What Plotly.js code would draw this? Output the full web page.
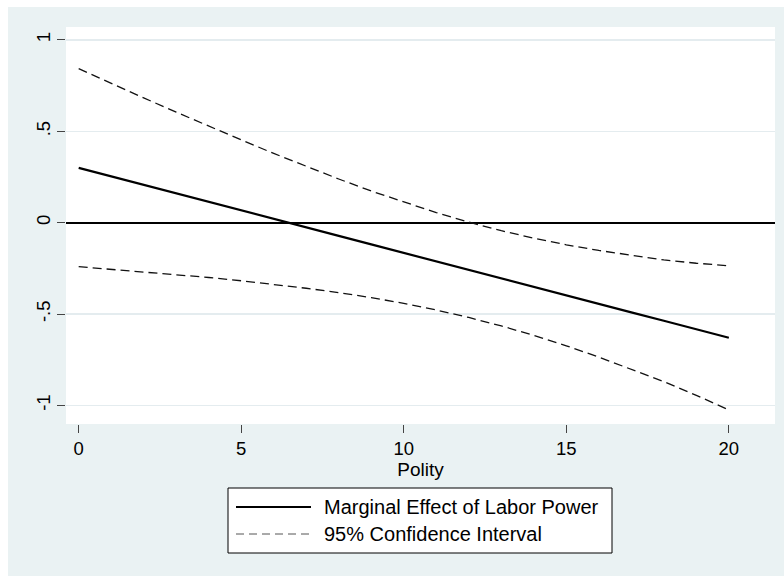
<!DOCTYPE html>
<html>
<head>
<meta charset="utf-8">
<script src="https://cdn.plot.ly/plotly-3.0.1.min.js"></script>
<style>
  html, body { margin: 0; padding: 0; background: #ffffff; }
  #chart { position: absolute; left: 8px; top: 7px; width: 776px; height: 569px; }
</style>
</head>
<body>
<div id="chart"></div>
<script>
// ---- Data ----
const polity = [0,1,2,3,4,5,6,7,8,9,10,11,12,13,14,15,16,17,18,19,20];
const marginalEffect = [0.300,0.254,0.207,0.161,0.114,0.068,0.021,-0.026,-0.072,-0.119,-0.165,-0.212,-0.258,-0.305,-0.351,-0.398,-0.444,-0.491,-0.537,-0.584,-0.630];
const ciUpper = [0.843,0.762,0.683,0.605,0.528,0.453,0.379,0.308,0.239,0.173,0.112,0.055,0.003,-0.044,-0.085,-0.121,-0.152,-0.180,-0.204,-0.222,-0.236];
const ciLower = [-0.241,-0.255,-0.269,-0.284,-0.300,-0.318,-0.337,-0.359,-0.383,-0.410,-0.442,-0.478,-0.519,-0.565,-0.617,-0.674,-0.736,-0.801,-0.870,-0.945,-1.025];
const xTicks = [0,5,10,15,20];
const xTickText = ['0','5','10','15','20'];
const yTicks = [-1,-0.5,0,0.5,1];
const yTickText = ['-1','-.5','0','.5','1'];
const legendLabels = ['Marginal Effect of Labor Power','95% Confidence Interval'];
const xTitle = 'Polity';

// ---- Layout helpers (div pixel -> paper fraction) ----
const W = 776, H = 569;
const M = {l: 58, r: 9, t: 20, b: 152};
const pw = W - M.l - M.r, ph = H - M.t - M.b;
const px = x => (x - M.l) / pw;
const py = y => (H - M.b - y) / ph;

const FONT = '"Liberation Sans", Arial, sans-serif';
const BG = '#EAF2F3';

const traces = [
  {x: polity, y: marginalEffect, type: 'scatter', mode: 'lines',
   line: {color: '#000000', width: 2.2}, hoverinfo: 'skip', showlegend: false},
  {x: polity, y: ciUpper, type: 'scatter', mode: 'lines',
   line: {color: '#111111', width: 1.3, dash: '9px,5px'}, hoverinfo: 'skip', showlegend: false},
  {x: polity, y: ciLower, type: 'scatter', mode: 'lines',
   line: {color: '#111111', width: 1.3, dash: '9px,5px'}, hoverinfo: 'skip', showlegend: false}
];

// manual Stata-style legend box
const boxL = 220, boxR = 604, boxT = 481, boxB = 546;
const row1 = 500, row2 = 527;
const sampL = 228, sampR = 303, textX = 314;

const shapes = [
  {type: 'rect', xref: 'paper', yref: 'paper', x0: px(boxL), x1: px(boxR), y0: py(boxB), y1: py(boxT),
   fillcolor: '#ffffff', line: {color: '#000000', width: 1}, layer: 'above'},
  {type: 'line', xref: 'paper', yref: 'paper', x0: px(sampL), x1: px(sampR), y0: py(row1), y1: py(row1),
   line: {color: '#000000', width: 2}},
  {type: 'line', xref: 'paper', yref: 'paper', x0: px(sampL), x1: px(sampR), y0: py(row2), y1: py(row2),
   line: {color: '#555555', width: 1, dash: '8px,5px'}}
];

const annotations = [
  {xref: 'paper', yref: 'paper', x: px(textX), y: py(row1), xanchor: 'left', yanchor: 'middle',
   text: legendLabels[0], showarrow: false, font: {family: FONT, size: 20, color: '#000000'}},
  {xref: 'paper', yref: 'paper', x: px(textX), y: py(row2), xanchor: 'left', yanchor: 'middle',
   text: legendLabels[1], showarrow: false, font: {family: FONT, size: 20, color: '#000000'}}
];

const layout = {
  width: W, height: H,
  margin: M,
  paper_bgcolor: BG,
  plot_bgcolor: '#ffffff',
  font: {family: FONT, color: '#000000'},
  showlegend: false,
  xaxis: {
    range: [-0.39, 21.42],
    tickmode: 'array', tickvals: xTicks, ticktext: xTickText,
    ticks: 'outside', ticklen: 8, tickwidth: 1, tickcolor: '#444444',
    tickfont: {family: FONT, size: 18.5, color: '#000000'},
    showgrid: false, zeroline: false, showline: false,
    title: {text: xTitle, font: {family: FONT, size: 19, color: '#000000'}, standoff: 0}
  },
  yaxis: {
    range: [-1.102, 1.071],
    tickmode: 'array', tickvals: yTicks, ticktext: yTickText,
    ticks: 'outside', ticklen: 8, tickwidth: 1, tickcolor: '#444444',
    tickangle: -90,
    tickfont: {family: FONT, size: 18.5, color: '#000000'},
    showgrid: true, gridcolor: '#E4ECEF', gridwidth: 1.5,
    zeroline: true, zerolinecolor: '#000000', zerolinewidth: 2,
    showline: false
  },
  shapes: shapes,
  annotations: annotations
};

Plotly.newPlot('chart', traces, layout, {staticPlot: true, displayModeBar: false});
</script>
</body>
</html>
